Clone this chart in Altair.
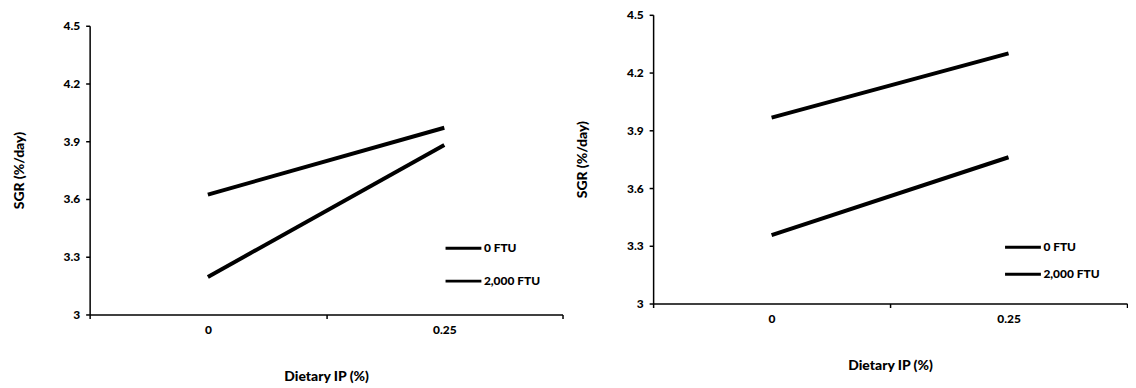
import altair as alt
import pandas as pd

ip_levels = ["0", "0.25"]
series_names = ["0 FTU", "2,000 FTU"]
left_0ftu = [3.195, 3.88]
left_2000ftu = [3.623, 3.97]
right_0ftu = [3.355, 3.76]
right_2000ftu = [3.966, 4.30]
y_ticks = [3, 3.3, 3.6, 3.9, 4.2, 4.5]


def frame(a, b):
    rows = []
    for name, vals in zip(series_names, [a, b]):
        for ip, v in zip(ip_levels, vals):
            rows.append({"ip": ip, "series": name, "sgr": v})
    return pd.DataFrame(rows)


FONT = "Lato"
WEIGHT = 900


def panel(df, w, h, lx, ly, row_pad):
    x = alt.X(
        "ip:N",
        sort=ip_levels,
        scale=alt.Scale(paddingInner=0, paddingOuter=0),
        axis=alt.Axis(
            title="Dietary IP (%)",
            labelAngle=0,
            tickBand="extent",
            labelPadding=6,
            titlePadding=34,
        ),
    )
    y = alt.Y(
        "sgr:Q",
        scale=alt.Scale(domain=[3, 4.5], nice=False, zero=False),
        axis=alt.Axis(
            title="SGR (%/day)",
            values=y_ticks,
            format="~g",
            grid=False,
            labelPadding=6,
            titlePadding=37,
        ),
    )
    color = alt.Color(
        "series:N",
        sort=series_names,
        scale=alt.Scale(domain=series_names, range=["black", "black"]),
        legend=alt.Legend(
            title=None,
            orient="none",
            legendX=lx,
            legendY=ly,
            symbolType="M-5,0H1",
            symbolSize=144,
            symbolStrokeWidth=3,
            symbolStrokeColor="black",
            rowPadding=row_pad,
            labelOffset=1,
            labelFont=FONT,
            labelFontWeight=WEIGHT,
            labelFontSize=12,
            labelColor="black",
            padding=0,
        ),
    )
    return (
        alt.Chart(df)
        .mark_line(strokeWidth=4, color="black")
        .encode(x=x, y=y, color=color)
        .properties(width=w, height=h)
    )


left = panel(frame(left_0ftu, left_2000ftu), 475, 290, 380, 227, 19)
right = panel(frame(right_0ftu, right_2000ftu), 476, 290, 376, 226, 13)

spacer = (
    alt.Chart(pd.DataFrame({"v": [0]}))
    .mark_point(opacity=0)
    .properties(width=1, height=4)
)
left_col = alt.vconcat(spacer, left, spacing=0)

chart = (
    alt.hconcat(left_col, right, spacing=12)
    .resolve_scale(color="independent")
    .resolve_legend(color="independent")
    .properties(padding={"left": 4, "top": 0, "right": 0, "bottom": 0})
    .configure_view(stroke=None)
    .configure_axis(
        labelFont=FONT,
        labelFontWeight=WEIGHT,
        labelFontSize=12,
        labelColor="black",
        titleFont=FONT,
        titleFontWeight=WEIGHT,
        titleFontSize=14,
        titleColor="black",
        domainColor="black",
        domainWidth=1.5,
        tickColor="black",
        tickWidth=1.5,
        tickSize=4,
    )
)

chart.save("out.html", embed_options={"renderer": "svg", "actions": False})
